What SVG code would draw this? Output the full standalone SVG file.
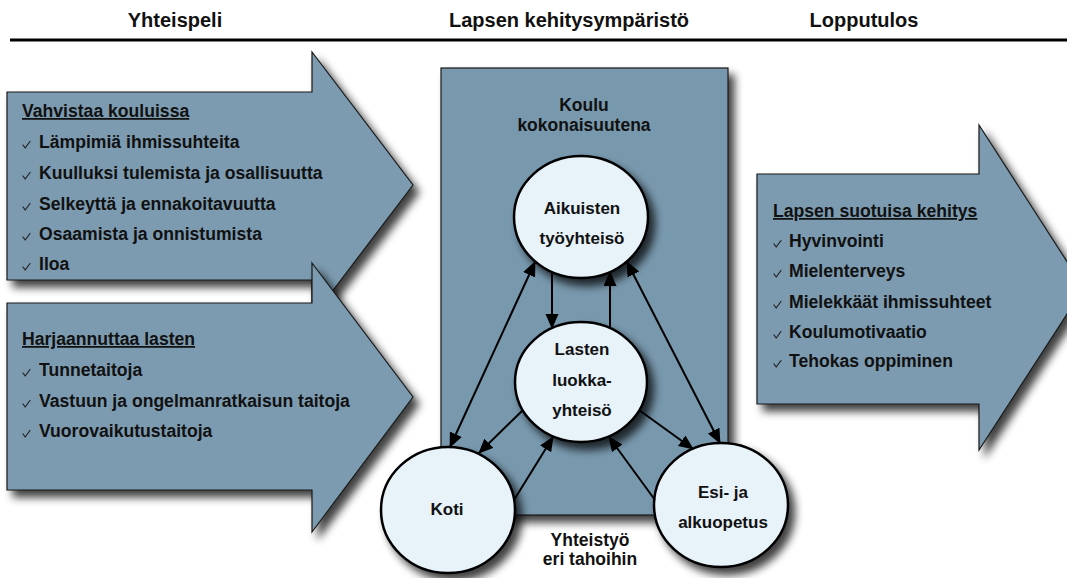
<svg xmlns="http://www.w3.org/2000/svg" width="1067" height="578" viewBox="0 0 1067 578">
<defs>
<style>
.title{font-family:"Liberation Sans",Arial,sans-serif;font-weight:bold;font-size:20px;fill:#111;text-anchor:middle}
.body{font-family:"Liberation Sans",Arial,sans-serif;font-weight:bold;font-size:17.6px;fill:#111}
.head{text-decoration:underline}
.node{font-family:"Liberation Sans",Arial,sans-serif;font-weight:bold;font-size:17px;fill:#111;text-anchor:middle}
.cap{font-family:"Liberation Sans",Arial,sans-serif;font-weight:bold;font-size:17.5px;fill:#111;text-anchor:middle}
.bigarrow{fill:#7b9bb0;stroke:#1a1a1a;stroke-width:1.2}
.box{fill:#7898ad;stroke:#1a1a1a;stroke-width:1.2}
.circle{fill:#e7f2f9;stroke:#000;stroke-width:2.5}
.conn{stroke:#000;stroke-width:2;fill:none}
.chk{stroke:#222;stroke-width:1.2;fill:none;stroke-linecap:round;stroke-linejoin:round}
</style>
<filter id="shadow" x="-10%" y="-10%" width="130%" height="130%">
<feGaussianBlur in="SourceAlpha" stdDeviation="4"/>
<feOffset dx="6" dy="7" result="b"/>
<feComponentTransfer><feFuncA type="linear" slope="0.75"/></feComponentTransfer>
<feMerge><feMergeNode/><feMergeNode in="SourceGraphic"/></feMerge>
</filter>
<marker id="ah" markerUnits="userSpaceOnUse" markerWidth="16" markerHeight="14" refX="14" refY="6.5" orient="auto-start-reverse" viewBox="0 0 16 14">
<path d="M0,0 L15,6.5 L0,13 z" fill="#000"/>
</marker>
<path id="tick" class="chk" d="M0,-3 L2.2,0 L7,-6.5"/>
</defs>

<g id="header">
<text class="title" x="175" y="27">Yhteispeli</text>
<text class="title" x="569" y="27">Lapsen kehitysympäristö</text>
<text class="title" x="864" y="27">Lopputulos</text>
<line x1="10" y1="40" x2="1067" y2="40" stroke="#000" stroke-width="3"/>
</g>

<g id="arrow-vahvistaa">
<path class="bigarrow" filter="url(#shadow)" d="M7,92 H312 V52 L413,185 L312,318 V280 H7 Z"/>
<text class="body head" x="22" y="117">Vahvistaa kouluissa</text>
<use href="#tick" x="23" y="148"/><text class="body" x="39" y="148">Lämpimiä ihmissuhteita</text>
<use href="#tick" x="23" y="179"/><text class="body" x="39" y="179">Kuulluksi tulemista ja osallisuutta</text>
<use href="#tick" x="23" y="210"/><text class="body" x="39" y="210">Selkeyttä ja ennakoitavuutta</text>
<use href="#tick" x="23" y="240"/><text class="body" x="39" y="240">Osaamista ja onnistumista</text>
<use href="#tick" x="23" y="270"/><text class="body" x="39" y="270">Iloa</text>
</g>

<g id="arrow-harjaannuttaa">
<path class="bigarrow" filter="url(#shadow)" d="M7,303 H312 V263 L413,397 L312,532 V490 H7 Z"/>
<text class="body head" x="22" y="345">Harjaannuttaa lasten</text>
<use href="#tick" x="23" y="376"/><text class="body" x="39" y="376">Tunnetaitoja</text>
<use href="#tick" x="23" y="407"/><text class="body" x="39" y="407">Vastuun ja ongelmanratkaisun taitoja</text>
<use href="#tick" x="23" y="437"/><text class="body" x="39" y="437">Vuorovaikutustaitoja</text>
</g>

<g id="arrow-lopputulos">
<path class="bigarrow" filter="url(#shadow)" d="M757,174 H979 V125 L1084,288 L979,450 V404 H757 Z"/>
<text class="body head" x="773" y="217">Lapsen suotuisa kehitys</text>
<use href="#tick" x="774" y="247"/><text class="body" x="789" y="247">Hyvinvointi</text>
<use href="#tick" x="774" y="277"/><text class="body" x="789" y="277">Mielenterveys</text>
<use href="#tick" x="774" y="308"/><text class="body" x="789" y="308">Mielekkäät ihmissuhteet</text>
<use href="#tick" x="774" y="338"/><text class="body" x="789" y="338">Koulumotivaatio</text>
<use href="#tick" x="774" y="367"/><text class="body" x="789" y="367">Tehokas oppiminen</text>
</g>

<g id="koulu">
<rect class="box" filter="url(#shadow)" x="441" y="68" width="287" height="447"/>
<text class="cap" x="584" y="111">Koulu</text>
<text class="cap" x="584" y="131">kokonaisuutena</text>
</g>

<g id="node-aikuisten">
<ellipse class="circle" filter="url(#shadow)" cx="581" cy="217" rx="67" ry="61"/>
<text class="node" x="582" y="214">Aikuisten</text>
<text class="node" x="582" y="244">työyhteisö</text>
</g>

<g id="node-lasten">
<ellipse class="circle" filter="url(#shadow)" cx="581" cy="382" rx="66" ry="60"/>
<text class="node" x="582" y="355">Lasten</text>
<text class="node" x="582" y="386">luokka-</text>
<text class="node" x="582" y="416">yhteisö</text>
</g>

<g id="node-koti">
<ellipse class="circle" filter="url(#shadow)" cx="448" cy="510" rx="67" ry="63"/>
<text class="node" x="447" y="515">Koti</text>
</g>

<g id="node-esi">
<ellipse class="circle" filter="url(#shadow)" cx="721" cy="505" rx="67" ry="62"/>
<text class="node" x="723" y="498">Esi- ja</text>
<text class="node" x="723" y="528">alkuopetus</text>
</g>

<g id="connectors">
<line class="conn" x1="450" y1="447" x2="535" y2="262" marker-start="url(#ah)" marker-end="url(#ah)"/>
<line class="conn" x1="627" y1="262" x2="720" y2="443" marker-start="url(#ah)" marker-end="url(#ah)"/>
<line class="conn" x1="552" y1="272" x2="552" y2="328" marker-end="url(#ah)"/>
<line class="conn" x1="610" y1="328" x2="610" y2="272" marker-end="url(#ah)"/>
<line class="conn" x1="523" y1="410" x2="479" y2="453" marker-end="url(#ah)"/>
<line class="conn" x1="514" y1="500" x2="553" y2="437" marker-end="url(#ah)"/>
<line class="conn" x1="639" y1="410" x2="693" y2="449" marker-end="url(#ah)"/>
<line class="conn" x1="655" y1="500" x2="609" y2="437" marker-end="url(#ah)"/>
</g>

<g id="caption">
<text class="cap" x="590" y="546">Yhteistyö</text>
<text class="cap" x="590" y="565">eri tahoihin</text>
</g>
</svg>
